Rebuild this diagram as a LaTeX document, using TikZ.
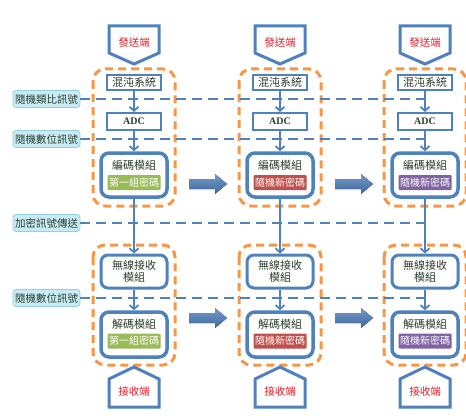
\documentclass[tikz,border=0pt]{standalone}
\usepackage{fontspec}
\setmainfont{Noto Sans CJK TC}
\newfontfamily\adcfont{Liberation Serif}
\usepackage{xcolor}
\usetikzlibrary{arrows.meta}

\definecolor{boxblue}{RGB}{79,129,189}
\definecolor{grporange}{RGB}{247,150,70}
\definecolor{txtgreen}{RGB}{45,62,45}
\definecolor{keygreen}{RGB}{155,187,89}
\definecolor{keyred}{RGB}{192,80,77}
\definecolor{keypurple}{RGB}{128,100,162}
\definecolor{lblfill}{RGB}{200,236,246}
\definecolor{lbldraw}{RGB}{150,205,228}
\definecolor{endred}{RGB}{230,30,40}

\begin{document}
\begin{tikzpicture}[x=1pt,y=-1pt,
    box/.style={draw=boxblue, line width=2pt, fill=white, text=txtgreen, minimum width=54pt, inner sep=0pt, align=center, font=\fontsize{11}{12.5}\selectfont},
    module/.style={draw=boxblue, line width=3.5pt, rounded corners=8pt, fill=white, minimum width=66pt, minimum height=44pt, inner sep=0pt},
    title/.style={text=txtgreen, inner sep=0pt, font=\fontsize{11}{12}\selectfont},
    key/.style={fill=#1, text=white, minimum width=53pt, minimum height=15pt, inner sep=0pt, rounded corners=1pt, font=\fontsize{10}{12}\selectfont},
    grp/.style={draw=grporange, line width=3pt, dash pattern=on 8pt off 5pt, rounded corners=12pt},
    lbl/.style={fill=lblfill, draw=lbldraw, line width=0.8pt, rounded corners=3pt, minimum width=67pt, minimum height=17pt, inner sep=0pt, text=txtgreen, font=\fontsize{10.5}{12}\selectfont},
    sig/.style={draw=boxblue, line width=2.5pt, dash pattern=on 10pt off 6pt},
    flow/.style={draw=boxblue, line width=1.8pt, -{Straight Barb[length=4pt,width=9pt]}},
    term/.style={draw=boxblue, line width=3pt, fill=white, line join=miter},
    endtxt/.style={text=endred, inner sep=0pt, font=\fontsize{10.5}{12}\selectfont},
    bigarr/.style={top color=boxblue!80, bottom color=boxblue!80!black}]
    \useasboundingbox (0,0) rectangle (466,420);

    \foreach \x/\c/\t/\i in {134/keygreen/第一組密碼/1, 280/keyred/隨機新密碼/2, 425/keypurple/隨機新密碼/3} {
      % sender side
      \draw[term] ({\x-25},26) -- ({\x+25},26) -- ({\x+25},53) -- (\x,64) -- ({\x-25},53) -- cycle;
      \node[endtxt] (snd\i) at (\x,43) {發送端};
      \draw[grp] ({\x-41},69) rectangle ({\x+41},206);
      \node[box, minimum height=15pt] (chaos\i) at (\x,82.5) {混沌系統};
      \node[box, minimum height=17pt, font=\adcfont\fontsize{10}{12}\selectfont\bfseries] (adc\i) at (\x,121.5) {ADC};
      \node[module] (enc\i) at (\x,175) {};
      \node[title] at (\x,165) {編碼模組};
      \node[key=\c] (enck\i) at (\x,182.5) {\t};
      % receiver side
      \draw[grp] ({\x-41},245) rectangle ({\x+41},365);
      \node[box, line width=3pt, rounded corners=7pt, minimum width=66pt, minimum height=33pt] (rx\i) at (\x,271.5) {無線接收\\模組};
      \node[module, minimum height=45pt] (dec\i) at (\x,334.5) {};
      \node[title] at (\x,324) {解碼模組};
      \node[key=\c] (deck\i) at (\x,341) {\t};
      \draw[term] ({\x-25},407) -- ({\x-25},379) -- (\x,367) -- ({\x+25},379) -- ({\x+25},407) -- cycle;
      \node[endtxt] (rcv\i) at (\x,391) {接收端};
      \draw[flow] (chaos\i) -- (adc\i);
      \draw[flow] (adc\i) -- (enc\i);
      \draw[flow] (enc\i) -- (rx\i);
      \draw[flow] (rx\i) -- (dec\i);
    }

    \foreach \x in {134,280} {
      \fill[bigarr] ({\x+55},179) -- ({\x+81},179) -- ({\x+81},174) -- ({\x+93},184) -- ({\x+81},194) -- ({\x+81},189) -- ({\x+55},189) -- cycle;
      \fill[bigarr] ({\x+55},313) -- ({\x+81},313) -- ({\x+81},308) -- ({\x+93},318) -- ({\x+81},328) -- ({\x+81},323) -- ({\x+55},323) -- cycle;
    }

    \node[lbl] (ana) at (46.5,99) {隨機類比訊號};
    \node[lbl] (dig) at (46.5,139) {隨機數位訊號};
    \node[lbl] (send) at (46.5,223) {加密訊號傳送};
    \node[lbl] (digrx) at (46.5,298) {隨機數位訊號};
    \draw[sig] (ana) -- (ana -| adc3);
    \draw[sig] (dig) -- (dig -| adc3);
    \draw[sig] (send) -- (send -| adc3);
    \draw[sig] (digrx) -- (digrx -| adc3);
\end{tikzpicture}
\end{document}
